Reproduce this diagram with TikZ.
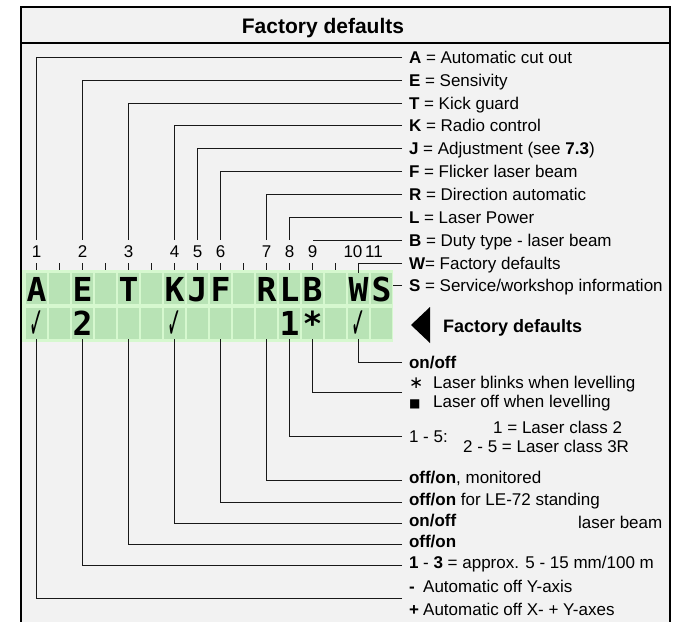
\documentclass[tikz,border=0pt]{standalone}
\usepackage{fontspec}
\usepackage{graphicx}
\setmainfont{Liberation Sans}
\newfontfamily\lcdfont{DejaVu Sans Mono}
\newfontfamily\symfont{DejaVu Sans}
\usetikzlibrary{calc,positioning}

\definecolor{panelgray}{HTML}{F2F2F2}
\definecolor{lcdrim}{HTML}{D6F8CF}
\definecolor{lcdcell}{HTML}{B8E3B5}

\tikzstyle{frame}=[draw=black,line width=2pt]
\tikzstyle{lead}=[draw=black!90,line width=1pt]
\tikzstyle{key}=[anchor=west,inner sep=0pt,outer xsep=7pt,outer ysep=0pt,text height=12.2pt,text depth=0pt,font=\fontsize{17}{20}\selectfont]
\tikzstyle{val}=[key,text depth=6pt]
\tikzstyle{plain}=[anchor=west,inner sep=0pt,text height=12.2pt,text depth=0pt,font=\fontsize{17}{20}\selectfont]
\tikzstyle{num}=[inner sep=0pt,outer ysep=5pt,text height=12.2pt,text depth=0pt,font=\fontsize{17}{20}\selectfont]
\tikzstyle{cell}=[fill=lcdcell,minimum width=21pt,minimum height=31pt,inner sep=0pt,text height=25pt,text depth=0pt,font=\lcdfont\bfseries\fontsize{33}{33}\selectfont]

\newcommand\lcdcheck{\raisebox{-3pt}{\symfont\fontsize{34}{34}\selectfont\scalebox{0.5}[1.3]{✓}}}

\begin{document}
\begin{tikzpicture}[x=1pt,y=-1pt]
\useasboundingbox (0,0) rectangle (673,622);
\fill[panelgray] (20.5,7.3) rectangle (669.5,622);
\draw[frame] (20.5,622) |- (669.5,7.3) -- (669.5,622);
\draw[frame] (20.5,43) -- (669.5,43);
\node[anchor=base,inner sep=0pt,font=\bfseries\fontsize{21}{24}\selectfont] (title) at (323,33.3) {Factory defaults};

% display
\node[fill=lcdrim,minimum width=371pt,minimum height=72pt,inner sep=0pt] (lcd) at (207.5,306) {};
\foreach \k/\ta/\tb in {1/A/\lcdcheck,2//,3/E/2,4//,5/T/,6//,7/K/\lcdcheck,8/J/,9/F/,10//,11/R/,12/L/1,13/B/*,14//,15/W/\lcdcheck,16/S/}{
  \node[cell] (c\k) at ({36.5+23*(\k-1)},288.5) {\ta};
  \node[cell] (d\k) at ({36.5+23*(\k-1)},323) {\tb};
}
\foreach \k in {1,...,14}
  \draw[lead] ([yshift=3pt]c\k.north) -- ++(0,-7);

\foreach \k/\n in {1/1,3/2,5/3,7/4,8/5,9/6,11/7,12/8,13/9}
  \node[num] (n\n) at ({36.5+23*(\k-1)},251) {\n};
\node[num] (n10) at (353,251) {10};
\node[num] (n11) at (374,251) {11};

% keys
\node[key] (lA) at (402,57) {\textbf{A} = Automatic cut out};
\node[key] (lE) at (402,80) {\textbf{E} = Sensivity};
\node[key] (lT) at (402,103) {\textbf{T} = Kick guard};
\node[key] (lK) at (402,125.5) {\textbf{K} = Radio control};
\node[key] (lJ) at (402,148) {\textbf{J} = Adjustment (see \textbf{7.3})};
\node[key] (lF) at (402,171) {\textbf{F} = Flicker laser beam};
\node[key] (lR) at (402,194) {\textbf{R} = Direction automatic};
\node[key] (lL) at (402,217) {\textbf{L} = Laser Power};
\node[key] (lB) at (402,240) {\textbf{B} = Duty type - laser beam};
\node[key] (lW) at (402,263) {\textbf{W}= Factory defaults};
\node[key] (lS) at (402,285) {\textbf{S} = Service/workshop information};

\draw[lead] (lA.west) -| (n1.north);
\draw[lead] (lE.west) -| (n2.north);
\draw[lead] (lT.west) -| (n3.north);
\draw[lead] (lK.west) -| (n4.north);
\draw[lead] (lJ.west) -| (n5.north);
\draw[lead] (lF.west) -| (n6.north);
\draw[lead] (lR.west) -| (n7.north);
\draw[lead] (lL.west) -| (n8.north);
\draw[lead] (lB.west) -- (lB.west -| c13.north);
\draw[lead] (lW.west) -| (c15.north);
\draw[lead] (lS.west) -- (lS.west -| lcd.east);

\fill (411,325) -- (430,307) -- (430,343) -- cycle;
\node[anchor=base west,inner sep=0pt,font=\bfseries\fontsize{18}{21}\selectfont] (fd) at (443,332) {Factory defaults};

% settings
\node[key] (vW) at (402,362) {\textbf{on/off}};
\node[plain] (vB1) at (409,382) {\makebox[24pt][l]{\symfont ∗}Laser blinks when levelling};
\node[plain] (vB2) at (409,401) {\makebox[24pt][l]{\symfont\fontsize{12}{12}\selectfont ■}Laser off when levelling};
\coordinate (bfree) at (402,392);
\node[key] (vL) at (402,436) {1 - 5:};
\node[plain] (vL1) at (493,427) {1 = Laser class 2};
\node[plain] (vL2) at (463,446) {2 - 5 = Laser class 3R};
\node[val] (vR) at (402,480) {\textbf{off/on}, monitored};
\node[val] (vF) at (402,502) {\textbf{off/on} for LE-72 standing};
\node[val] (vK) at (402,523) {\textbf{on/off}};
\node[plain] (beam) at (578,522) {laser beam};
\node[val] (vT) at (402,544) {\textbf{off/on}};
\node[val] (vE) at (402,565) {\textbf{1} - \textbf{3} = approx. 5 - 15 mm/100 m};
\node[plain] (vA1) at (409,586) {\makebox[14pt][l]{\textbf{-}}Automatic off Y-axis};
\node[plain] (vA2) at (409,609) {\makebox[14pt][l]{\textbf{+}}Automatic off X- + Y-axes};
\coordinate (afree) at (402,598);

\draw[lead] (vW.west) -| (d15.south);
\draw[lead] (bfree) -| (d13.south);
\draw[lead] (vL.west) -| (d12.south);
\draw[lead] (vR.west) -| (d11.south);
\draw[lead] (vF.west) -| (d9.south);
\draw[lead] (vK.west) -| (d7.south);
\draw[lead] (vT.west) -| (d5.south);
\draw[lead] (vE.west) -| (d3.south);
\draw[lead] (afree) -| (d1.south);
\end{tikzpicture}
\end{document}
